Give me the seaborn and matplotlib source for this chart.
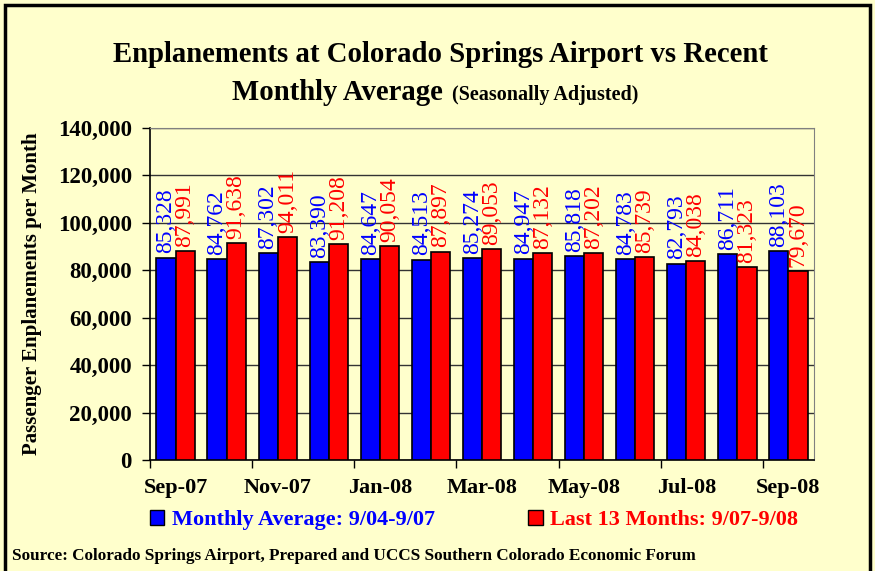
import seaborn as sns
import matplotlib.pyplot as plt
import pandas as pd
from matplotlib.patches import Patch, Rectangle

# Data
months = ['Sep-07', 'Oct-07', 'Nov-07', 'Dec-07', 'Jan-08', 'Feb-08', 'Mar-08',
          'Apr-08', 'May-08', 'Jun-08', 'Jul-08', 'Aug-08', 'Sep-08']
avg_0407 = [85328, 84762, 87302, 83390, 84647, 84513, 85274,
            84947, 85818, 84783, 82793, 86711, 88103]
last_13 = [87991, 91638, 94011, 91208, 90054, 87897, 89053,
           87132, 87202, 85739, 84038, 81323, 79670]
series_names = ['Monthly Average: 9/04-9/07', 'Last 13 Months: 9/07-9/08']
series_colors = ['#0000FF', '#FF0000']
yticks = [0, 20000, 40000, 60000, 80000, 100000, 120000, 140000]

df = pd.DataFrame({
    'Month': months * 2,
    'Enplanements': avg_0407 + last_13,
    'Series': [series_names[0]] * len(months) + [series_names[1]] * len(months),
})

bg = '#FFFFCC'
serif = 'Liberation Serif'
plt.rcParams['font.family'] = serif

fig = plt.figure(figsize=(8.75, 5.71), dpi=100, facecolor=bg)
ax = fig.add_axes([150 / 875, 1 - 460 / 571, 664 / 875, 332 / 571])
ax.set_facecolor(bg)

sns.barplot(data=df, x='Month', y='Enplanements', hue='Series',
            palette=series_colors, saturation=1, width=0.75,
            edgecolor='black', linewidth=1.2, ax=ax, legend=False, zorder=3)

# value labels above bars
for cont, color in zip(ax.containers, series_colors):
    for bar in cont:
        h = bar.get_height()
        ax.annotate(f'{int(h):,}', (bar.get_x() + bar.get_width() / 2, h),
                    xytext=(0, 3), textcoords='offset points',
                    rotation=90, ha='center', va='bottom', color=color,
                    fontsize=17, zorder=4)

ax.set_ylim(0, 140000)
ax.set_xlim(-0.5, len(months) - 0.5)
ax.set_yticks(yticks)
ax.set_yticklabels([f'{v:,}' for v in yticks], fontsize=16.5, fontweight='bold')
ax.yaxis.grid(True, color='#333333', linewidth=1, zorder=0)
ax.set_axisbelow(True)

# x ticks at every other category boundary, labels at every other category
ax.set_xticks([i - 0.5 for i in range(0, len(months), 2)])
ax.set_xticklabels([])
ax.set_xticks(list(range(0, len(months), 2)), minor=True)
ax.set_xticklabels(months[::2], minor=True, fontsize=16, fontweight='bold')
ax.tick_params(axis='x', which='major', length=6, width=1, direction='out')
ax.tick_params(axis='x', which='minor', length=0, pad=13)
ax.tick_params(axis='y', length=6, width=1, direction='out', pad=7)

ax.set_xlabel('')
ax.set_ylabel('Passenger Enplanements per Month', fontsize=15, fontweight='bold')
ax.yaxis.set_label_coords(-0.162, 0.5)

for s in ['top', 'right']:
    ax.spines[s].set_color('#808080')
for s in ['left', 'bottom']:
    ax.spines[s].set_color('black')
    ax.spines[s].set_linewidth(1.2)

# title
fig.text(440 / 875, 1 - 62 / 571, 'Enplanements at Colorado Springs Airport vs Recent',
         ha='center', va='baseline', fontsize=20.7, fontweight='bold')
fig.text(443 / 875, 1 - 100 / 571, 'Monthly Average', ha='right', va='baseline',
         fontsize=20.7, fontweight='bold')
fig.text(452 / 875, 1 - 100 / 571, '(Seasonally Adjusted)', ha='left', va='baseline',
         fontsize=14.5, fontweight='bold')

# legend
handles = [Patch(facecolor=c, edgecolor='black') for c in series_colors]
leg = fig.legend(handles, series_names, ncol=2, loc='center',
                 bbox_to_anchor=(474 / 875, 1 - 520 / 571), frameon=False,
                 prop={'family': serif, 'weight': 'bold', 'size': 16},
                 handlelength=0.65, handleheight=0.65, handletextpad=0.35,
                 columnspacing=4.2)
for t, c in zip(leg.get_texts(), series_colors):
    t.set_color(c)

fig.text(12 / 875, 1 - 556 / 571,
         'Source: Colorado Springs Airport, Prepared and UCCS Southern Colorado Economic Forum',
         ha='left', va='center', fontsize=12.3, fontweight='bold')

# outer frame
fig.patches.append(Rectangle((5 / 875, -0.01), 865 / 875, 1 - 5 / 571 + 0.01,
                             transform=fig.transFigure, fill=False,
                             edgecolor='black', linewidth=2.5))

fig.savefig('out.png', dpi=100, facecolor=bg)
